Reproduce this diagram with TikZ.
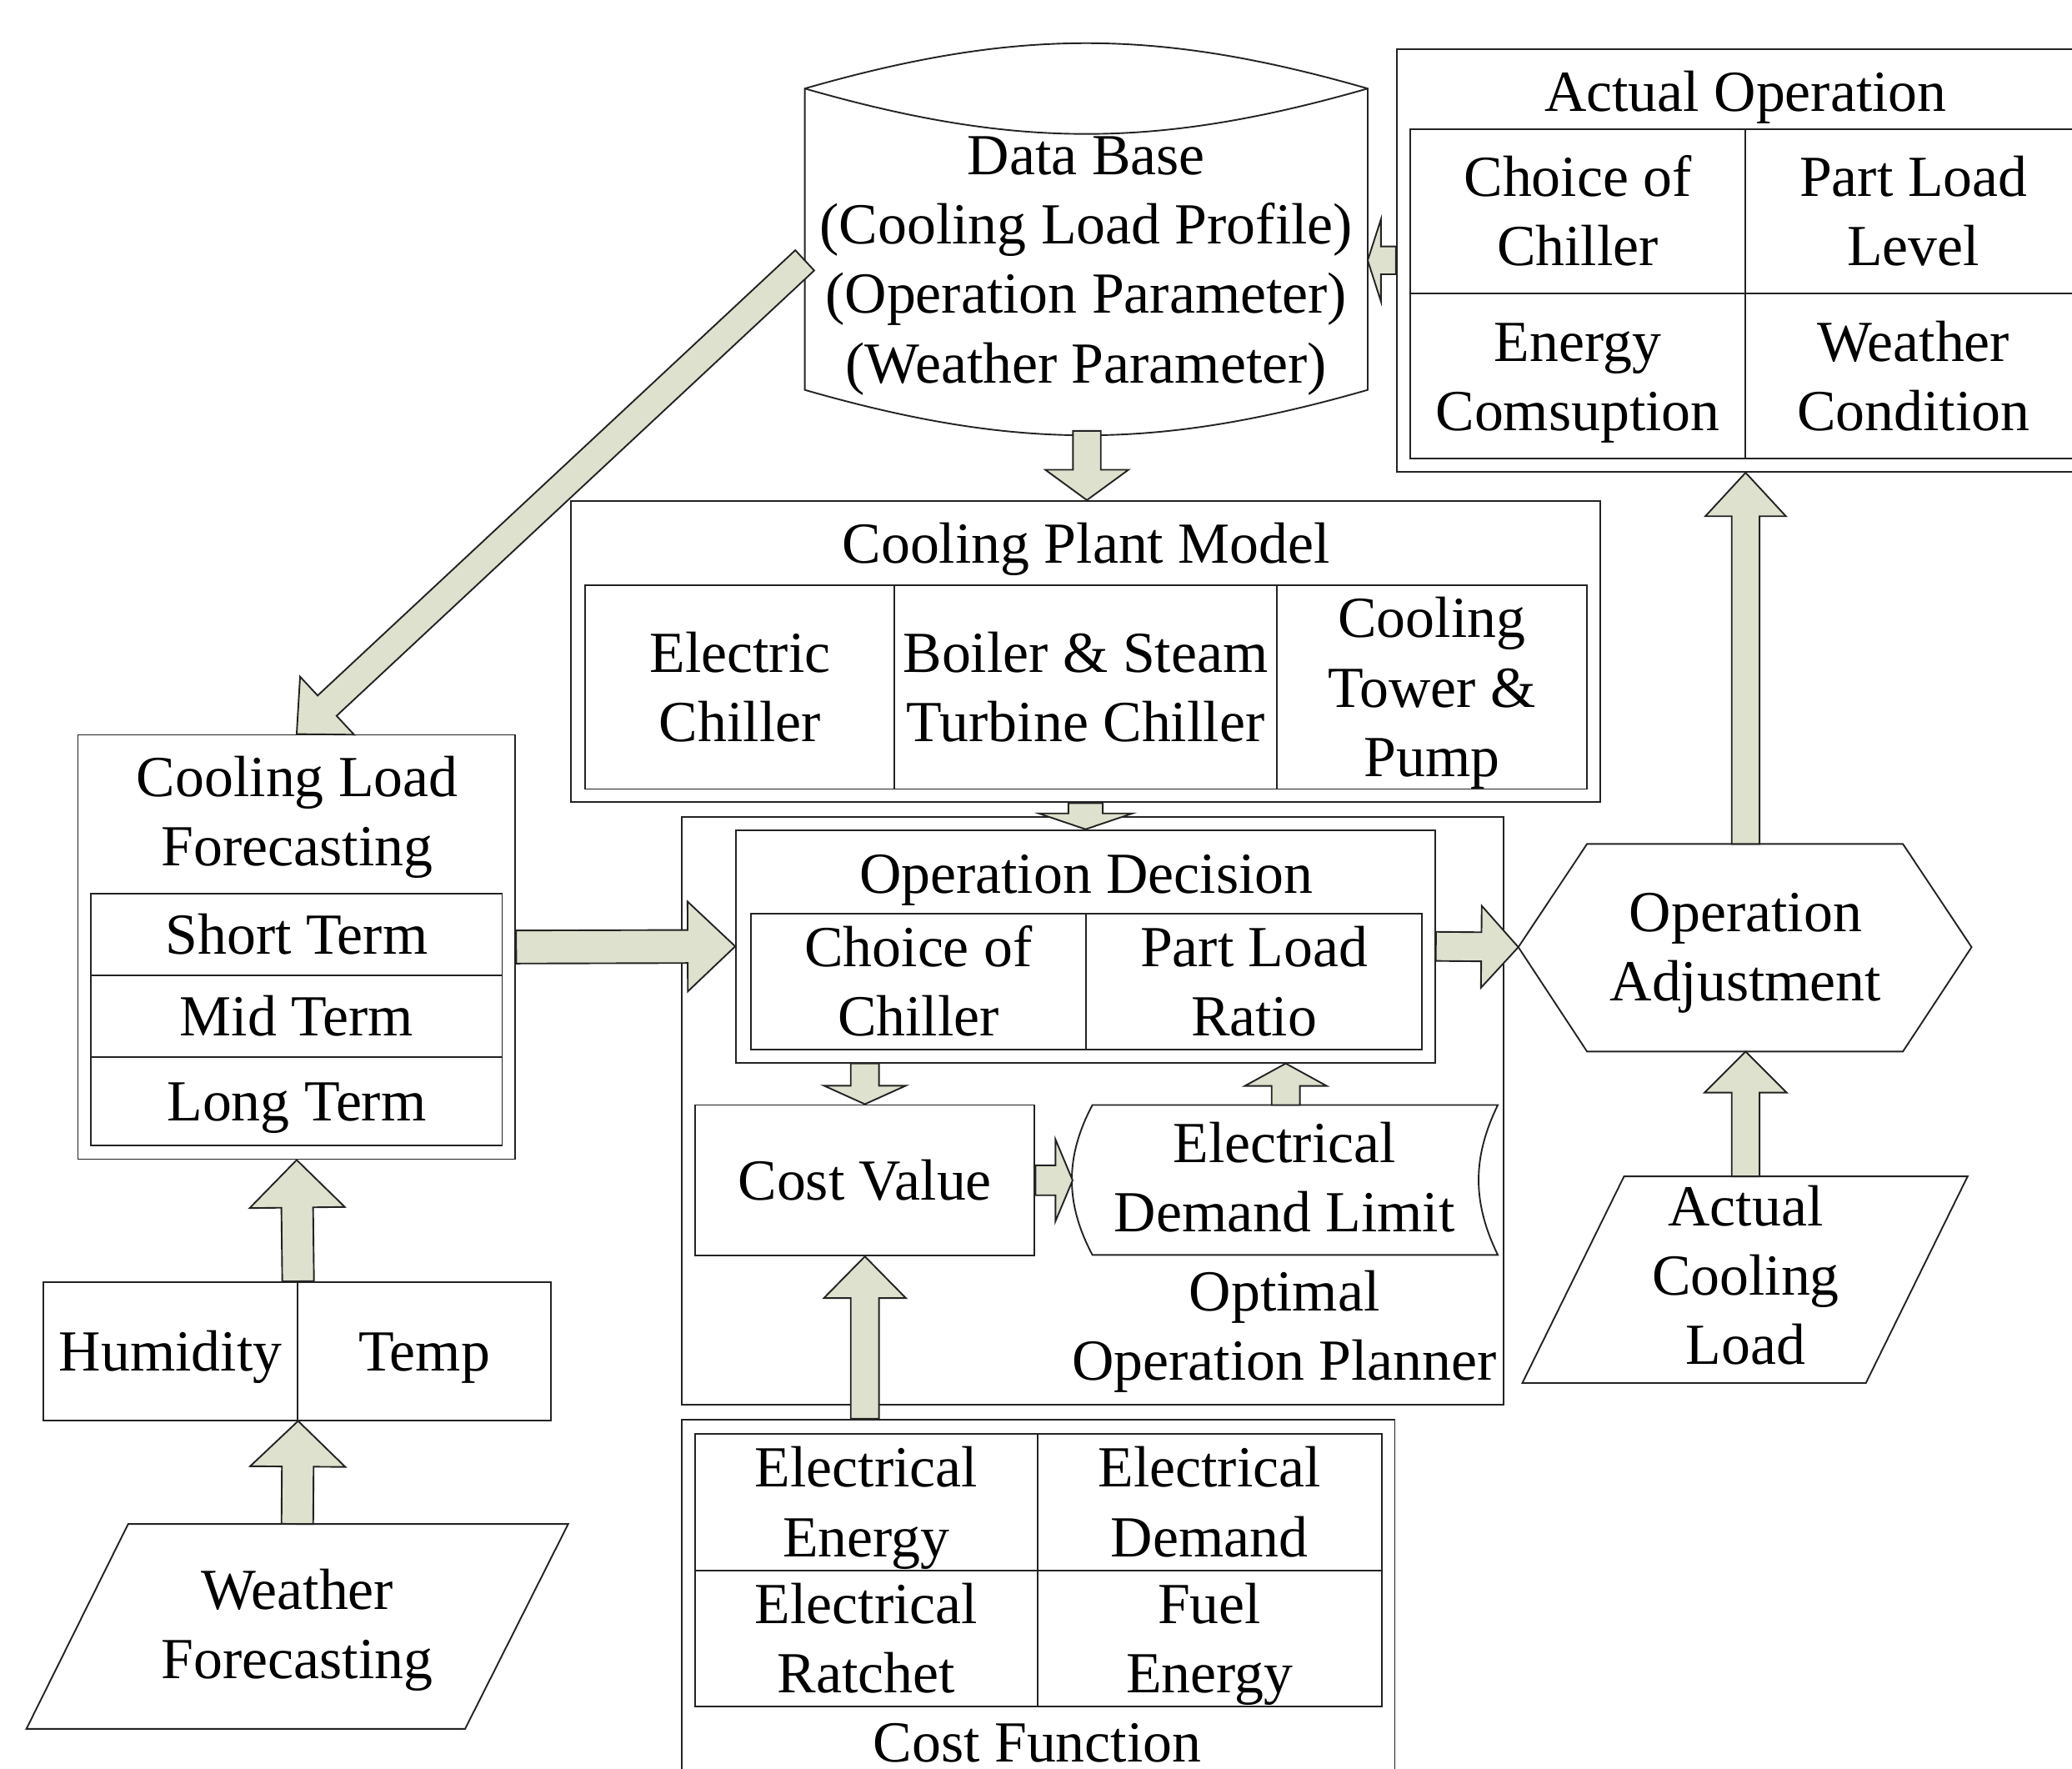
\documentclass[tikz,border=0pt]{standalone}
\usepackage{fontspec}
\setmainfont{Liberation Serif}
\usetikzlibrary{calc}
\definecolor{arrowfill}{RGB}{221,225,205}
\definecolor{lineclr}{RGB}{35,35,35}
\tikzset{
  txt/.style={font=\fontsize{44}{52.5}\selectfont, align=center, inner sep=0pt},
  box/.style={txt, draw=lineclr, line width=1.2pt, rectangle},
  shapeline/.style={draw=lineclr, line width=1.2pt, line join=miter},
  blockarrow/.style={draw=lineclr, line width=1.2pt, fill=arrowfill, line join=miter},
}
% uniform first-line height and last-line depth
\newcommand\ft{\rule{0pt}{39.3pt}}
\newcommand\lt{\rule[-9.5pt]{0pt}{0pt}}
% name, x1, y1, x2, y2, text
\newcommand\rbox[6]{\node[box, minimum width={(#4-#2)*1pt}, minimum height={(#5-#3)*1pt}] (#1) at ({(#2+#4)/2},{(#3+#5)/2}) {\ft#6\lt};}
% start, end, half shaft, half head, head length
\newcommand\barrow[5]{%
  \coordinate (ba-s) at (#1);
  \coordinate (ba-e) at (#2);
  \coordinate (ba-h) at ($(ba-e)!#5!(ba-s)$);
  \draw[blockarrow] ($(ba-s)!#3!90:(ba-e)$) -- ($(ba-h)!#3!-90:(ba-s)$) -- ($(ba-h)!#4!-90:(ba-s)$) -- (ba-e) -- ($(ba-h)!#4!90:(ba-s)$) -- ($(ba-h)!#3!90:(ba-s)$) -- ($(ba-s)!#3!-90:(ba-e)$) -- cycle;
}
\begin{document}
\begin{tikzpicture}[x=1pt,y=-1pt]
\useasboundingbox (0,0) rectangle (1568,1338);

% ---------- Data Base cylinder ----------
\coordinate (dbtl) at (609,67);
\coordinate (dbtr) at (1035,67);
\coordinate (dbbl) at (609,295);
\coordinate (dbbr) at (1035,295);
\draw[shapeline, fill=white] (dbtl) to[bend left=16] (dbtr) -- (dbbr) to[bend left=16] (dbbl) -- cycle;
\draw[shapeline] (dbtl) to[bend right=16] (dbtr);
\node[txt] (db) at (822,196) {\ft Data Base\\(Cooling Load Profile)\\(Operation Parameter)\\(Weather Parameter)\lt};
\coordinate (dbbot) at (822.5,326);
\coordinate (dbright) at (1035,197);
\coordinate (dbdiag) at (609,197);

% ---------- Actual Operation ----------
\rbox{AO}{1057}{37}{1585}{357}{}
\node[txt] (AOt) at (1321,69) {\ft Actual Operation\lt};
\rbox{AO1}{1067}{98}{1321}{222}{Choice of\\Chiller}
\rbox{AO2}{1321}{98}{1575}{222}{Part Load\\Level}
\rbox{AO3}{1067}{222}{1321}{347}{Energy\\Comsuption}
\rbox{AO4}{1321}{222}{1575}{347}{Weather\\Condition}

% ---------- Cooling Plant Model ----------
\rbox{CPM}{432}{379}{1211}{607}{}
\node[txt] (CPMt) at (822,411) {\ft Cooling Plant Model\lt};
\rbox{CP1}{443}{443}{677}{597}{Electric\\Chiller}
\rbox{CP2}{677}{443}{966}{597}{Boiler \& Steam\\Turbine Chiller}
\rbox{CP3}{966}{443}{1201}{597}{Cooling\\Tower \&\\Pump}

% ---------- Optimal Operation Planner ----------
\rbox{OOP}{516}{618}{1138}{1063}{}
\node[txt] (OOPt) at (972,1003) {\ft Optimal\\Operation Planner\lt};
\rbox{OD}{557}{628}{1086}{804}{}
\node[txt] (ODt) at (822,661) {\ft Operation Decision\lt};
\rbox{OD1}{568}{691}{822}{794}{Choice of\\Chiller}
\rbox{OD2}{822}{691}{1076}{794}{Part Load\\Ratio}
\rbox{CV}{526}{836}{783}{950}{Cost Value}
% Electrical Demand Limit (stored data shape)
\coordinate (edltl) at (826.7,836);
\coordinate (edltr) at (1133.5,836);
\coordinate (edlbr) at (1133.5,949.5);
\coordinate (edlbl) at (826.7,949.5);
\draw[shapeline, fill=white] (edltl) -- (edltr) to[bend right=26] (edlbr) -- (edlbl) to[bend left=28] (edltl) -- cycle;
\node[txt] (EDL) at (972,891) {\ft Electrical\\Demand Limit\lt};
\coordinate (edltop) at (973,836);
\coordinate (edlleft) at (811.7,893);

% ---------- Cooling Load Forecasting ----------
\rbox{CLF}{59}{556}{390}{877}{}
\node[txt] (CLFt) at (225,614) {\ft Cooling Load\\Forecasting\lt};
\rbox{CL1}{69}{676}{380}{738}{Short Term}
\rbox{CL2}{69}{738}{380}{800}{Mid Term}
\rbox{CL3}{69}{800}{380}{866.5}{Long Term}

% ---------- Humidity / Temp ----------
\rbox{HT1}{33}{970}{225}{1074.5}{Humidity}
\rbox{HT2}{225}{970}{417}{1074.5}{Temp}

% ---------- Weather Forecasting ----------
\draw[shapeline, fill=white] (97,1153) -- (430,1153) -- (352,1308) -- (20,1308) -- cycle;
\node[txt] (WF) at (225,1229) {\ft Weather\\Forecasting\lt};
\coordinate (wftop) at (225,1153);

% ---------- Operation Adjustment ----------
\coordinate (oaleft) at (1149,716.6);
\coordinate (oatop) at (1321,638.5);
\coordinate (oabot) at (1321,795.6);
\draw[shapeline, fill=white] (oaleft) -- (1201,638.5) -- (1440,638.5) -- (1492,716.6) -- (1440,795.6) -- (1201,795.6) -- cycle;
\node[txt] (OA) at (1321,716) {\ft Operation\\Adjustment\lt};

% ---------- Actual Cooling Load ----------
\draw[shapeline, fill=white] (1229,890) -- (1489,890) -- (1412,1046.4) -- (1152,1046.4) -- cycle;
\node[txt] (ACL) at (1321,965) {\ft Actual\\Cooling\\Load\lt};
\coordinate (acltop) at (1321,890);

% ---------- Cost Function ----------
\rbox{CF}{516}{1074}{1055.5}{1370}{}
\rbox{CF1}{526}{1085}{785}{1188}{Electrical\\Energy}
\rbox{CF2}{785}{1085}{1045.5}{1188}{Electrical\\Demand}
\rbox{CF3}{526}{1188}{785}{1291}{Electrical\\Ratchet}
\rbox{CF4}{785}{1188}{1045.5}{1291}{Fuel\\Energy}
\node[txt, anchor=base] (CFt) at (785,1333) {Cost Function};

% ---------- Block arrows ----------
\barrow{CLF.east}{OD.west}{12.5pt}{34pt}{36pt}
\barrow{OD.east}{oaleft}{11pt}{31pt}{28pt}
\barrow{oatop}{AO.south}{10.5pt}{30.5pt}{33pt}
\barrow{acltop}{oabot}{10.5pt}{31pt}{31pt}
\barrow{AO.west}{dbright}{10.5pt}{31pt}{10pt}
\barrow{dbbot}{dbbot |- CPM.north}{10.5pt}{31.5pt}{23pt}
\barrow{CPM.south}{CPM.south |- OD.north}{13pt}{35.5pt}{12pt}
\barrow{CV.north |- OD.south}{CV.north}{10.7pt}{31pt}{14pt}
\barrow{edltop}{edltop |- OD.south}{10.7pt}{31pt}{17pt}
\barrow{CV.east}{edlleft}{11.3pt}{31pt}{13pt}
\barrow{CV.south |- CF.north}{CV.south}{10.7pt}{31pt}{31.5pt}
\barrow{HT1.north east}{CLF.south}{12pt}{36pt}{36pt}
\barrow{wftop}{HT1.south east}{12pt}{36pt}{34.5pt}
\barrow{dbdiag}{CLF.north}{10.5pt}{30pt}{31.5pt}
\end{tikzpicture}
\end{document}
